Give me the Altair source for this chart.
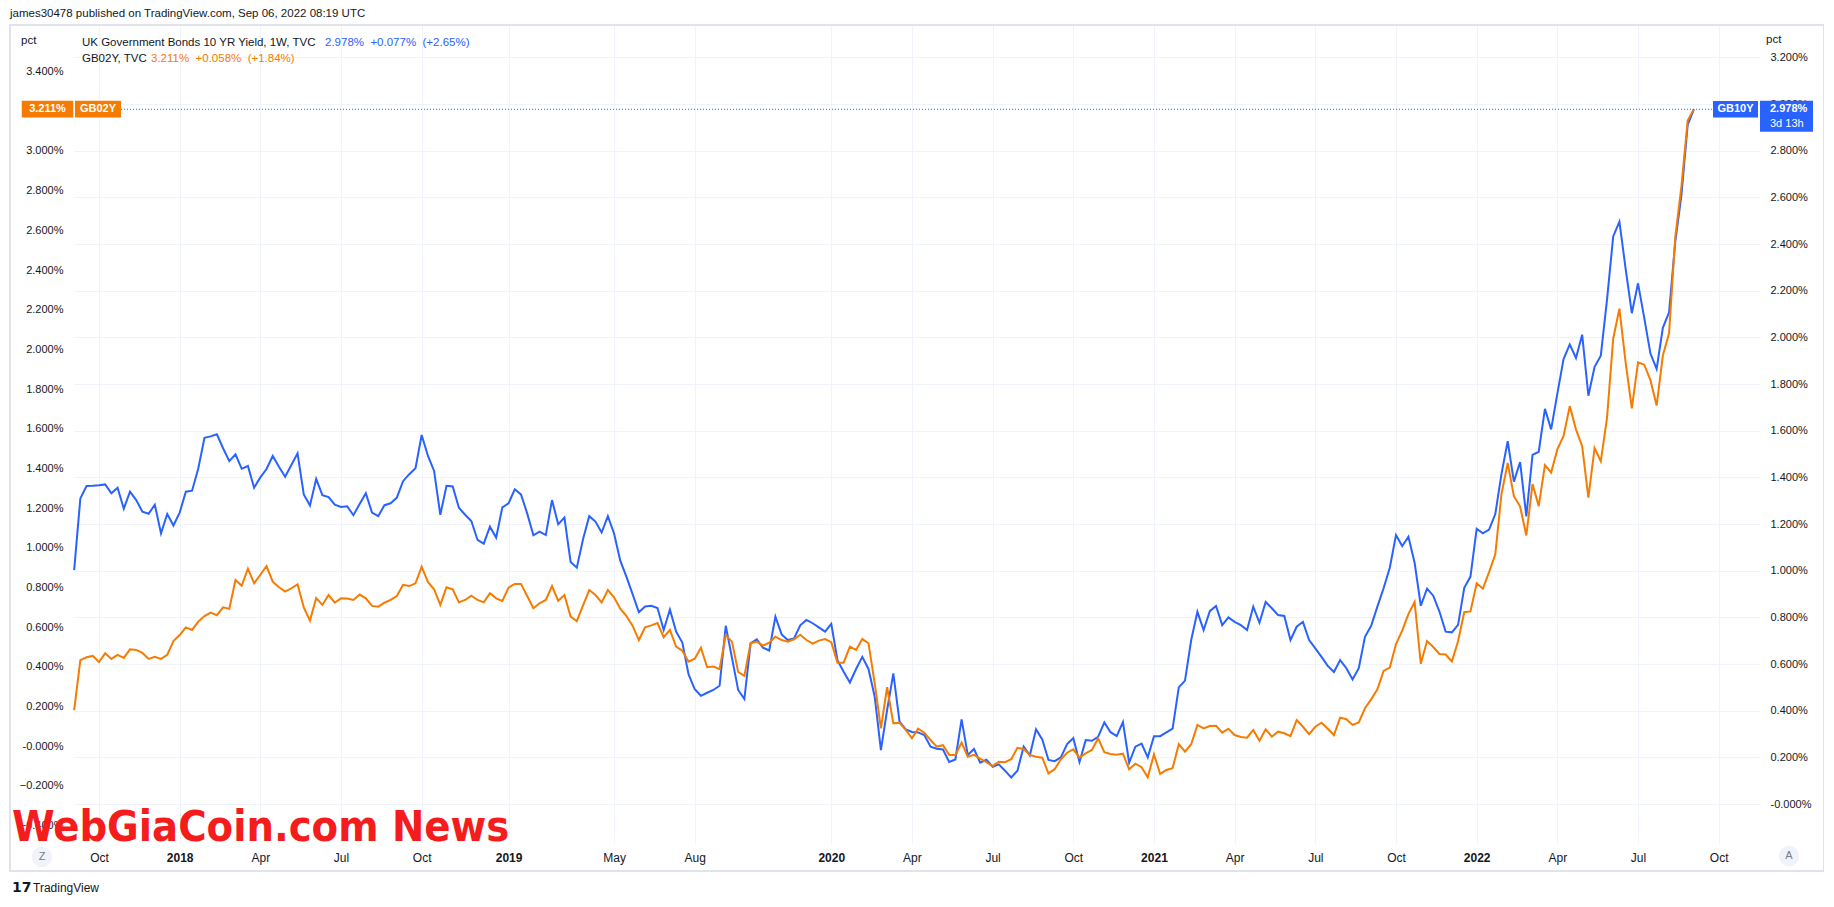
import altair as alt
import pandas as pd

# ---------------- data (weekly bars, first bar Monday 2017-09-04) ----------------
FIRST_BAR = "2017-09-04"

# UK 10Y gilt yield (GB10Y), % ; None = no distinct vertex read
gb10y = [
    1.003, 1.310, 1.363, 1.364,
    1.366, 1.370, 1.332, 1.356, 1.266, 1.339, 1.303, 1.253, 1.244, 1.283,
    1.160, 1.243, 1.194, 1.249, 1.339, 1.343, 1.438, 1.570, 1.576, 1.585,
    1.525, 1.470, 1.499, 1.437, 1.449, 1.356, 1.400, 1.436, 1.492, 1.446,
    1.403, 1.453, 1.503, 1.327, 1.280, 1.394, 1.324, 1.316, 1.283, 1.273,
    1.276, 1.238, 1.286, 1.332, 1.249, 1.234, 1.281, 1.289, 1.313, 1.384,
    1.414, 1.439, 1.582, 1.493, 1.428, 1.240, 1.364, 1.361, 1.270, 1.240,
    1.213, 1.132, 1.116, 1.189, 1.142, 1.272, 1.289, 1.349, 1.327, 1.246,
    1.152, 1.168, 1.153, 1.303, 1.199, 1.228, 1.037, 1.013, 1.135, 1.234,
    1.211, 1.164, 1.234, 1.160, 1.043, 0.974, 0.899, 0.822, 0.847, 0.850,
    0.840, 0.746, 0.834, 0.739, 0.692, 0.557, 0.492, 0.464, 0.477, 0.489,
    0.507, 0.764, None, 0.489, 0.450, 0.689, 0.706, 0.670, 0.658, 0.803,
    0.727, 0.703, 0.710, 0.766, 0.789, 0.775, 0.757, 0.739, 0.772, 0.617,
    0.567, 0.521, 0.579, 0.631, 0.579, 0.460, 0.231, 0.403, 0.560, 0.353,
    0.320, 0.309, 0.307, 0.296, 0.246, 0.237, 0.234, 0.180, 0.191, 0.363,
    0.210, 0.236, 0.177, 0.190, 0.160, 0.170, 0.143, 0.114, 0.143, 0.246,
    0.209, 0.320, 0.277, 0.189, 0.184, 0.200, 0.257, 0.282, 0.180, 0.274,
    0.271, 0.288, 0.350, 0.308, 0.291, 0.351, 0.177, 0.246, 0.259, 0.200,
    0.291, 0.291, 0.307, 0.323, 0.500, 0.529, 0.703, 0.824, 0.746, 0.827,
    0.849, 0.767, 0.800, 0.781, 0.767, 0.746, 0.846, 0.777, 0.866, 0.839,
    0.810, 0.806, 0.703, 0.760, 0.781, 0.703, 0.667, 0.631, 0.592, 0.566,
    0.617, 0.582, 0.534, 0.582, 0.717, 0.764, 0.846, 0.925, 1.013, 1.153,
    1.106, 1.146, 1.034, 0.850, 0.923, 0.893, 0.825, 0.739, 0.736, 0.768,
    0.927, 0.975, 1.180, 1.160, 1.176, 1.243, 1.415, 1.555, 1.382, 1.466,
    1.233, 1.497, 1.510, 1.694, 1.606, 1.759, 1.907, 1.970, 1.912, 2.012,
    1.750, 1.874, 1.922, 2.161, 2.433, 2.496, 2.295, 2.104, 2.232, 2.084,
    1.931, 1.865, 2.041, 2.108, 2.410, 2.611, 2.911, 2.978,
]

# UK 2Y gilt yield (GB02Y), %
gb02y = [
    0.182, 0.434, 0.448, 0.455,
    0.424, 0.468, 0.440, 0.460, 0.445, 0.488, 0.485, 0.470, 0.440, 0.450,
    0.440, 0.460, 0.530, 0.560, 0.599, 0.586, 0.628, 0.656, 0.673, 0.660,
    0.700, 0.692, 0.838, 0.809, 0.895, 0.821, 0.864, 0.908, 0.829, 0.801,
    0.779, 0.796, 0.816, 0.700, 0.633, 0.747, 0.712, 0.762, 0.723, 0.745,
    0.744, 0.737, 0.764, 0.745, 0.707, 0.703, 0.723, 0.737, 0.757, 0.813,
    0.807, 0.821, 0.905, 0.828, 0.791, 0.712, 0.801, 0.791, 0.725, 0.737,
    0.759, 0.737, 0.725, 0.771, 0.745, 0.732, 0.799, 0.818, 0.818, 0.757,
    0.695, 0.720, 0.737, 0.807, 0.733, 0.762, 0.653, 0.630, 0.710, 0.787,
    0.762, 0.725, 0.787, 0.750, 0.693, 0.656, 0.606, 0.535, 0.599, 0.609,
    0.621, 0.549, 0.586, 0.502, 0.481, 0.426, 0.441, 0.496, 0.398, 0.401,
    0.388, 0.560, 0.527, 0.374, 0.354, 0.519, 0.527, 0.507, 0.522, 0.552,
    0.535, 0.527, 0.539, 0.562, 0.535, 0.517, 0.532, 0.540, 0.524, 0.421,
    0.421, 0.502, 0.485, 0.540, 0.519, 0.317, 0.090, 0.297, 0.115, 0.118,
    0.082, 0.040, 0.088, 0.068, 0.031, -0.002, 0.005, -0.044, -0.044, 0.018,
    -0.053, -0.044, -0.063, -0.081, -0.100, -0.078, -0.081, -0.066, -0.008, -0.014,
    -0.044, -0.053, -0.058, -0.137, -0.116, -0.066, -0.033, -0.016, -0.058, -0.036,
    -0.019, 0.040, -0.030, -0.039, -0.043, -0.038, -0.116, -0.088, -0.106, -0.157,
    -0.041, -0.140, -0.120, -0.111, 0.010, -0.028, 0.010, 0.107, 0.090, 0.102,
    0.103, 0.068, 0.088, 0.056, 0.046, 0.043, 0.082, 0.028, 0.085, 0.048,
    0.073, 0.065, 0.051, 0.132, 0.098, 0.061, 0.098, 0.118, 0.088, 0.056,
    0.144, 0.136, 0.107, 0.120, 0.191, 0.236, 0.287, 0.379, 0.396, 0.515,
    0.582, 0.666, 0.727, 0.415, 0.530, 0.500, 0.465, 0.462, 0.427, 0.529,
    0.675, 0.679, 0.821, 0.794, 0.877, 0.967, 1.271, 1.428, 1.260, 1.208,
    1.062, 1.321, 1.210, 1.417, 1.379, 1.496, 1.564, 1.714, 1.597, 1.512,
    1.253, 1.503, 1.436, 1.654, 2.054, 2.205, 1.935, 1.703, 1.935, 1.923,
    1.845, 1.717, 1.969, 2.081, 2.565, 2.824, 3.154, 3.211,
]

LAST_10Y = 2.978
LAST_02Y = 3.211

x_tick_dates = ["2017-10-02", "2018-01-01", "2018-04-02", "2018-07-02", "2018-10-01",
                "2019-01-07", "2019-05-06", "2019-08-05", "2020-01-06", "2020-04-06",
                "2020-07-06", "2020-10-05", "2021-01-04", "2021-04-05", "2021-07-05",
                "2021-10-04", "2022-01-03", "2022-04-04", "2022-07-04", "2022-10-03"]
left_ticks = [-0.4, -0.2, 0.0, 0.2, 0.4, 0.6, 0.8, 1.0, 1.2, 1.4, 1.6, 1.8, 2.0,
              2.2, 2.4, 2.6, 2.8, 3.0, 3.2, 3.4]
right_ticks = [0.0, 0.2, 0.4, 0.6, 0.8, 1.0, 1.2, 1.4, 1.6, 1.8, 2.0, 2.2, 2.4,
               2.6, 2.8, 3.0, 3.2]

# ---------------- styling ----------------
FONT = "Liberation Sans"
TXT = "#131722"
BLUE = "#2962ff"
ORANGE = "#f57c00"
GRID = "#f0f3fa"
W, H = 1686, 817

ORANGE_DOM = [-0.488, 3.630]
BLUE_DOM = [-0.167, 3.335]


def ms(s):
    return int(pd.Timestamp(s, tz="UTC").timestamp() * 1000)


X_DOM = [ms("2017-09-03T20:00"), ms("2022-11-18T14:00")]


def weekly(vals):
    base = pd.Timestamp(FIRST_BAR)
    rows = []
    for i, v in enumerate(vals):
        if v is None:
            continue
        rows.append({"date": (base + pd.Timedelta(days=7 * i)).strftime("%Y-%m-%d"), "v": v})
    return pd.DataFrame(rows)


df10 = weekly(gb10y)
df02 = weekly(gb02y)

pct_expr = "abs(datum.value) < 0.0001 ? '-0.000%' : format(datum.value, '.3f') + '%'"

x_axis = alt.Axis(
    values=[ms(d) for d in x_tick_dates],
    labelExpr="utcmonth(datum.value) == 0 ? utcFormat(datum.value, '%Y') : utcFormat(datum.value, '%b')",
    labelFontWeight={"condition": {"test": "utcmonth(datum.value) == 0", "value": "bold"}, "value": "normal"},
    grid=True, gridColor=GRID, gridWidth=1, domain=False, ticks=False, tickSize=0,
    labelPadding=14, labelBaseline="middle", labelFont=FONT, labelFontSize=12,
    labelColor=TXT, labelOverlap=False, labelFlush=False,
)


def x_enc():
    return alt.X("date:T", title=None, scale=alt.Scale(type="utc", domain=X_DOM), axis=x_axis)


def yscale(dom):
    return alt.Scale(domain=dom, nice=False, zero=False)


left_axis = alt.Axis(orient="left", values=left_ticks, labelExpr=pct_expr, grid=False,
                     domain=False, ticks=False, tickSize=0, labelPadding=11,
                     labelFont=FONT, labelFontSize=11, labelColor=TXT, labelOverlap=False,
                     labelFlush=False)
right_axis = alt.Axis(orient="right", values=right_ticks, labelExpr=pct_expr, grid=True,
                      gridColor=GRID, domain=False, ticks=False, tickSize=0, labelPadding=10,
                      labelFont=FONT, labelFontSize=11, labelColor=TXT, labelOverlap=False,
                      labelFlush=False)

blue_line = alt.Chart(df10).mark_line(color=BLUE, strokeWidth=2).encode(
    x=x_enc(), y=alt.Y("v:Q", title=None, scale=yscale(BLUE_DOM), axis=right_axis))
orange_line = alt.Chart(df02).mark_line(color=ORANGE, strokeWidth=2).encode(
    x=x_enc(), y=alt.Y("v:Q", title=None, scale=yscale(ORANGE_DOM), axis=left_axis))

one = pd.DataFrame({"k": [0]})


def label(text, x, y, size=11, color=TXT, weight="normal", align="left", font=FONT,
          baseline="middle"):
    return alt.Chart(one).mark_text(fontSize=size, color=color, fontWeight=weight, align=align,
                                    baseline=baseline, font=font).encode(
        x=alt.value(x), y=alt.value(y), text=alt.value(text))


def dot(x, y):
    return alt.Chart(one).mark_point(shape="circle", size=420, filled=True, color="#f0f3fa",
                                     opacity=1).encode(x=alt.value(x), y=alt.value(y))


def box(val, dom, cx, w, h, color, yoff=0):
    r = h / w
    path = f"M-1,{-r:.3f}L1,{-r:.3f}L1,{r:.3f}L-1,{r:.3f}Z"
    return alt.Chart(pd.DataFrame({"v": [val]})).mark_point(
        shape=path, size=w * w, filled=True, color=color, opacity=1, strokeWidth=0,
        yOffset=yoff).encode(x=alt.value(cx), y=alt.Y("v:Q", scale=yscale(dom), axis=None))


def box_text(val, dom, text, x, align="center", yoff=0, weight="bold"):
    return alt.Chart(pd.DataFrame({"v": [val]})).mark_text(
        fontSize=11, color="white", fontWeight=weight, align=align, baseline="middle",
        font=FONT, yOffset=yoff).encode(
        x=alt.value(x), y=alt.Y("v:Q", scale=yscale(dom), axis=None), text=alt.value(text))


price_line = alt.Chart(pd.DataFrame({"v": [LAST_10Y]})).mark_rule(
    color=BLUE, strokeWidth=1, strokeDash=[1, 2]).encode(
    x=alt.value(47), x2=alt.value(1639), y=alt.Y("v:Q", scale=yscale(BLUE_DOM), axis=None))

frame = alt.Chart(one).mark_rect(fillOpacity=0, stroke="#e0e3eb", strokeWidth=2).encode(
    x=alt.value(-64), x2=alt.value(1750), y=alt.value(-1), y2=alt.value(845))

layers = [
    blue_line,
    orange_line,
    price_line,
    frame,
    box(LAST_02Y, ORANGE_DOM, -26.5, 51.5, 16.6, ORANGE),
    box(LAST_02Y, ORANGE_DOM, 24, 46, 16.6, ORANGE),
    box_text(LAST_02Y, ORANGE_DOM, "3.211%", -26.5),
    box_text(LAST_02Y, ORANGE_DOM, "GB02Y", 24),
    box(LAST_10Y, BLUE_DOM, 1661.5, 45, 16.6, BLUE),
    box(LAST_10Y, BLUE_DOM, 1712.5, 53, 31, BLUE, yoff=7),
    box_text(LAST_10Y, BLUE_DOM, "GB10Y", 1661.5),
    box_text(LAST_10Y, BLUE_DOM, "2.978%", 1696, align="left"),
    box_text(LAST_10Y, BLUE_DOM, "3d 13h", 1696, align="left", yoff=15, weight="normal"),
    dot(-32, 831),
    dot(1715, 830),
    label("Z", -32, 831, size=11, color="#787b86", align="center"),
    label("A", 1715, 830, size=11, color="#787b86", align="center"),
    label("james30478 published on TradingView.com, Sep 06, 2022 08:19 UTC", -64, -12, size=11.5),
    label("pct", -53, 15, size=11.5),
    label("pct", 1692, 14, size=11.5),
    label("UK Government Bonds 10 YR Yield, 1W, TVC", 8, 17, size=11.5),
    label("2.978%\u00a0\u00a0+0.077%\u00a0\u00a0(+2.65%)", 251, 17, size=11.5, color=BLUE),
    label("GB02Y, TVC", 8, 33, size=11.5),
    label("3.211%\u00a0\u00a0+0.058%\u00a0\u00a0(+1.84%)", 77, 33, size=11.5, color=ORANGE),
    label("17", -62, 862, size=14, weight="bold", font="DejaVu Sans"),
    label("TradingView", -41, 862, size=12),
    label("WebGiaCoin.com News", -62, 815, size=43, color="#f41c1c", weight="bold",
          font="Liberation Sans Narrow, DejaVu Sans Condensed, Liberation Serif, serif",
          baseline="alphabetic"),
]

chart = alt.layer(*layers).resolve_scale(y="independent").properties(
    width=W, height=H,
    autosize=alt.AutoSizeParams(type="none"),
    padding={"left": 66, "top": 18, "right": 64, "bottom": 54},
    background="white",
).configure_view(strokeWidth=0)

chart.save("out.html", embed_options={"renderer": "svg", "actions": False})
